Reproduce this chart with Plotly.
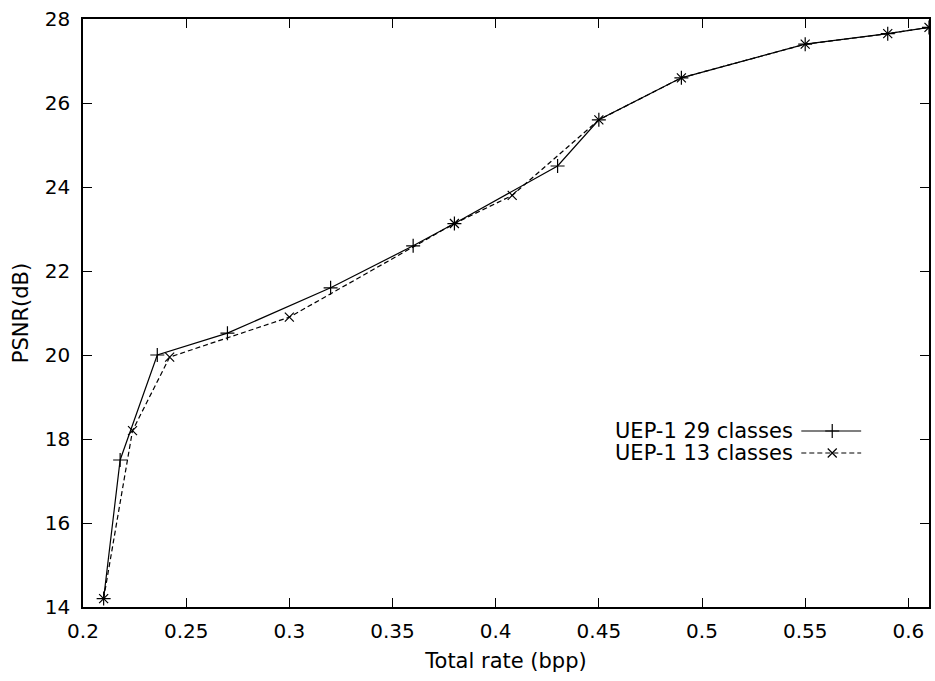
import plotly.graph_objects as go

# Data
rate_29 = [0.21, 0.218, 0.236, 0.27, 0.32, 0.36, 0.38, 0.43, 0.45, 0.49, 0.55, 0.59, 0.61]
psnr_29 = [14.2, 17.5, 20.0, 20.52, 21.6, 22.6, 23.13, 24.5, 25.6, 26.6, 27.4, 27.65, 27.8]
rate_13 = [0.21, 0.224, 0.242, 0.30, 0.38, 0.408, 0.45, 0.49, 0.55, 0.59, 0.61]
psnr_13 = [14.2, 18.2, 19.95, 20.9, 23.13, 23.8, 25.6, 26.6, 27.4, 27.65, 27.8]
names = ["UEP-1 29 classes", "UEP-1 13 classes"]
x_ticks = [0.2, 0.25, 0.3, 0.35, 0.4, 0.45, 0.5, 0.55, 0.6]
x_tick_labels = ["0.2", "0.25", "0.3", "0.35", "0.4", "0.45", "0.5", "0.55", "0.6"]
y_ticks = [14, 16, 18, 20, 22, 24, 26, 28]

FONT = "DejaVu Sans"
FS_TICK = 20
FS_TEXT = 21
W, H = 935, 681
L, R, T, B = 83, 4, 19, 74
DASH = "5px,3px"

fig = go.Figure()
fig.add_trace(go.Scatter(
    x=rate_29, y=psnr_29, mode="lines+markers", name=names[0],
    line=dict(color="black", width=1.2),
    marker=dict(symbol="cross-thin", size=10, line=dict(color="black", width=1.2)),
    showlegend=False))
fig.add_trace(go.Scatter(
    x=rate_13, y=psnr_13, mode="lines+markers", name=names[1],
    line=dict(color="black", width=1.2, dash=DASH),
    marker=dict(symbol="x-thin", size=9, line=dict(color="black", width=1.2)),
    showlegend=False))

# gnuplot-style key: text, then sample line with marker
pw = W - L - R
ph = H - T - B
def px2paper(px, py):
    return (px - L) / pw, (H - B - py) / ph

key_rows = [431, 453]
for i, (nm, py) in enumerate(zip(names, key_rows)):
    tx, ty = px2paper(797, py)
    fig.add_annotation(x=tx, y=ty, xref="paper", yref="paper", text=nm,
                       showarrow=False, xanchor="right", yanchor="middle",
                       font=dict(family=FONT, size=FS_TEXT, color="black"))
    x0, _ = px2paper(803, py)
    x1, _ = px2paper(863, py)
    xm, _ = px2paper(834, py)
    fig.add_trace(go.Scatter(
        x=[x0, xm, x1], y=[ty, ty, ty], xaxis="x2", yaxis="y2",
        mode="lines", showlegend=False, hoverinfo="skip",
        line=dict(color="black", width=1.2, dash=None if i == 0 else DASH)))
    fig.add_trace(go.Scatter(
        x=[xm], y=[ty], xaxis="x2", yaxis="y2", mode="markers",
        showlegend=False, hoverinfo="skip",
        marker=dict(symbol="cross-thin" if i == 0 else "x-thin", size=10 if i == 0 else 9,
                    line=dict(color="black", width=1.2))))

axis_common = dict(showgrid=False, zeroline=False, showline=True, linecolor="black",
                   linewidth=1.5, mirror="ticks", ticks="inside", ticklen=9,
                   tickcolor="black", tickwidth=1.2,
                   tickfont=dict(family=FONT, size=FS_TICK, color="black"))

fig.update_layout(
    width=W, height=H,
    margin=dict(l=L, r=R, t=T, b=B),
    plot_bgcolor="white", paper_bgcolor="white",
    font=dict(family=FONT, size=FS_TEXT, color="black"),
    xaxis=dict(range=[0.2, 0.61], tickvals=x_ticks, ticktext=x_tick_labels,
               ticklabelstandoff=5,
               title=dict(text="Total rate (bpp)", standoff=12,
                          font=dict(family=FONT, size=FS_TEXT)), **axis_common),
    yaxis=dict(range=[14, 28], tickvals=y_ticks, ticklabelstandoff=7,
               title=dict(text="PSNR(dB)", standoff=10,
                          font=dict(family=FONT, size=FS_TEXT)), **axis_common),
    xaxis2=dict(range=[0, 1], overlaying="x", visible=False),
    yaxis2=dict(range=[0, 1], overlaying="y", visible=False),
)

fig.write_html("out.html")
